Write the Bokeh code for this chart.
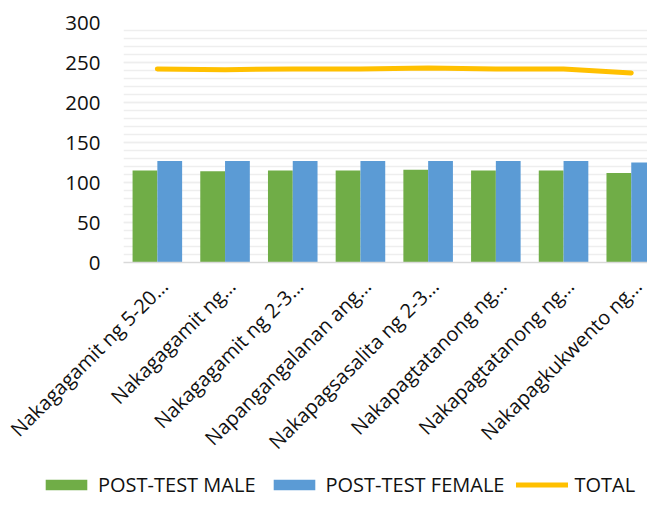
from math import pi
from bokeh.plotting import figure
from bokeh.models import Range1d, FixedTicker, Legend, LegendItem
from bokeh.embed import file_html
from bokeh.resources import INLINE

categories = [
    "Nakagagamit ng 5-20…",
    "Nakagagamit ng…",
    "Nakagagamit ng 2-3…",
    "Napangangalanan ang…",
    "Nakapagsasalita ng 2-3…",
    "Nakapagtatanong ng…",
    "Nakapagtatanong ng…",
    "Nakapagkukwento ng…",
]
post_test_male = [115, 114, 115, 115, 116, 115, 115, 112]
post_test_female = [127, 127, 127, 127, 127, 127, 127, 125]
total = [242, 241, 242, 242, 243, 242, 242, 237]
y_ticks = [0, 50, 100, 150, 200, 250, 300]
y_minor = list(range(0, 301, 10))
series_names = ["POST-TEST MALE", "POST-TEST FEMALE", "TOTAL"]

FONT = "Open Sans"
GREEN = "#70AD47"
BLUE = "#5B9BD5"
GOLD = "#FFC000"

centers = [i + 0.5 for i in range(len(categories))]
label_pos = [c + 0.1 for c in centers]
bw = 0.366
x_male = [c - bw / 2 for c in centers]
x_female = [c + bw / 2 for c in centers]


def draw_series(fig):
    rm = fig.vbar(x=x_male, top=post_test_male, bottom=0, width=bw,
                  fill_color=GREEN, line_color=None)
    rf = fig.vbar(x=x_female, top=post_test_female, bottom=0, width=bw,
                  fill_color=BLUE, line_color=None)
    rt = fig.line(centers, total, line_width=5, line_color=GOLD,
                  line_cap="round", line_join="round")
    return rm, rf, rt


p = figure(width=647, height=470, output_backend="svg", toolbar_location=None,
           x_range=Range1d(0, 7.74), y_range=Range1d(0, 300),
           min_border_left=123, min_border_right=0, min_border_top=22,
           min_border_bottom=208)
p.outline_line_color = None
p.background_fill_color = "white"
draw_series(p)

# y axis
p.yaxis.ticker = FixedTicker(ticks=y_ticks, minor_ticks=y_minor)
p.yaxis.axis_line_color = None
p.yaxis.major_tick_line_color = None
p.yaxis.minor_tick_line_color = None
p.yaxis.major_tick_out = 0
p.yaxis.major_tick_in = 0
p.yaxis.major_label_standoff = 19
p.yaxis.major_label_text_font = FONT
p.yaxis.major_label_text_font_size = "20.5px"
p.yaxis.major_label_text_color = "#111111"

# grid
p.xgrid.grid_line_color = None
p.ygrid.grid_line_color = "#eeeeee"
p.ygrid.grid_line_width = 1.6
p.ygrid.minor_grid_line_color = "#eeeeee"
p.ygrid.minor_grid_line_width = 1.6

# x axis
p.xaxis.ticker = FixedTicker(ticks=label_pos)
p.xaxis.major_label_overrides = {c: lab for c, lab in zip(label_pos, categories)}
p.xaxis.major_label_orientation = pi / 4
p.xaxis.axis_line_color = "#d9d9d9"
p.xaxis.axis_line_width = 1.5
p.xaxis.major_tick_line_color = None
p.xaxis.minor_tick_line_color = None
p.xaxis.major_tick_out = 0
p.xaxis.major_tick_in = 0
p.xaxis.major_label_standoff = 20
p.xaxis.major_label_text_font = FONT
p.xaxis.major_label_text_font_size = "20px"
p.xaxis.major_label_text_color = "#111111"

# legend strip: same series drawn out of view, legend shown in view
lg = figure(width=647, height=28, output_backend="svg", toolbar_location=None,
            x_range=Range1d(0, 1), y_range=Range1d(1000, 1001),
            x_axis_location=None, y_axis_location=None,
            min_border_left=0, min_border_right=0, min_border_top=0,
            min_border_bottom=0)
lg.grid.grid_line_color = None
lg.outline_line_color = None
d_m, d_f, d_t = draw_series(lg)

legend = Legend(items=[
    LegendItem(label=series_names[0], renderers=[d_m]),
    LegendItem(label=series_names[1], renderers=[d_f]),
    LegendItem(label=series_names[2], renderers=[d_t]),
], orientation="horizontal", location=(40, 0),
    glyph_width=52, glyph_height=13, label_standoff=6, spacing=12,
    padding=0, margin=0, border_line_color=None, background_fill_alpha=0,
    label_text_font=FONT, label_text_font_size="20px",
    label_text_color="#111111")
lg.add_layout(legend, "center")

open("out.html", "w").write(file_html([p, lg], INLINE))
